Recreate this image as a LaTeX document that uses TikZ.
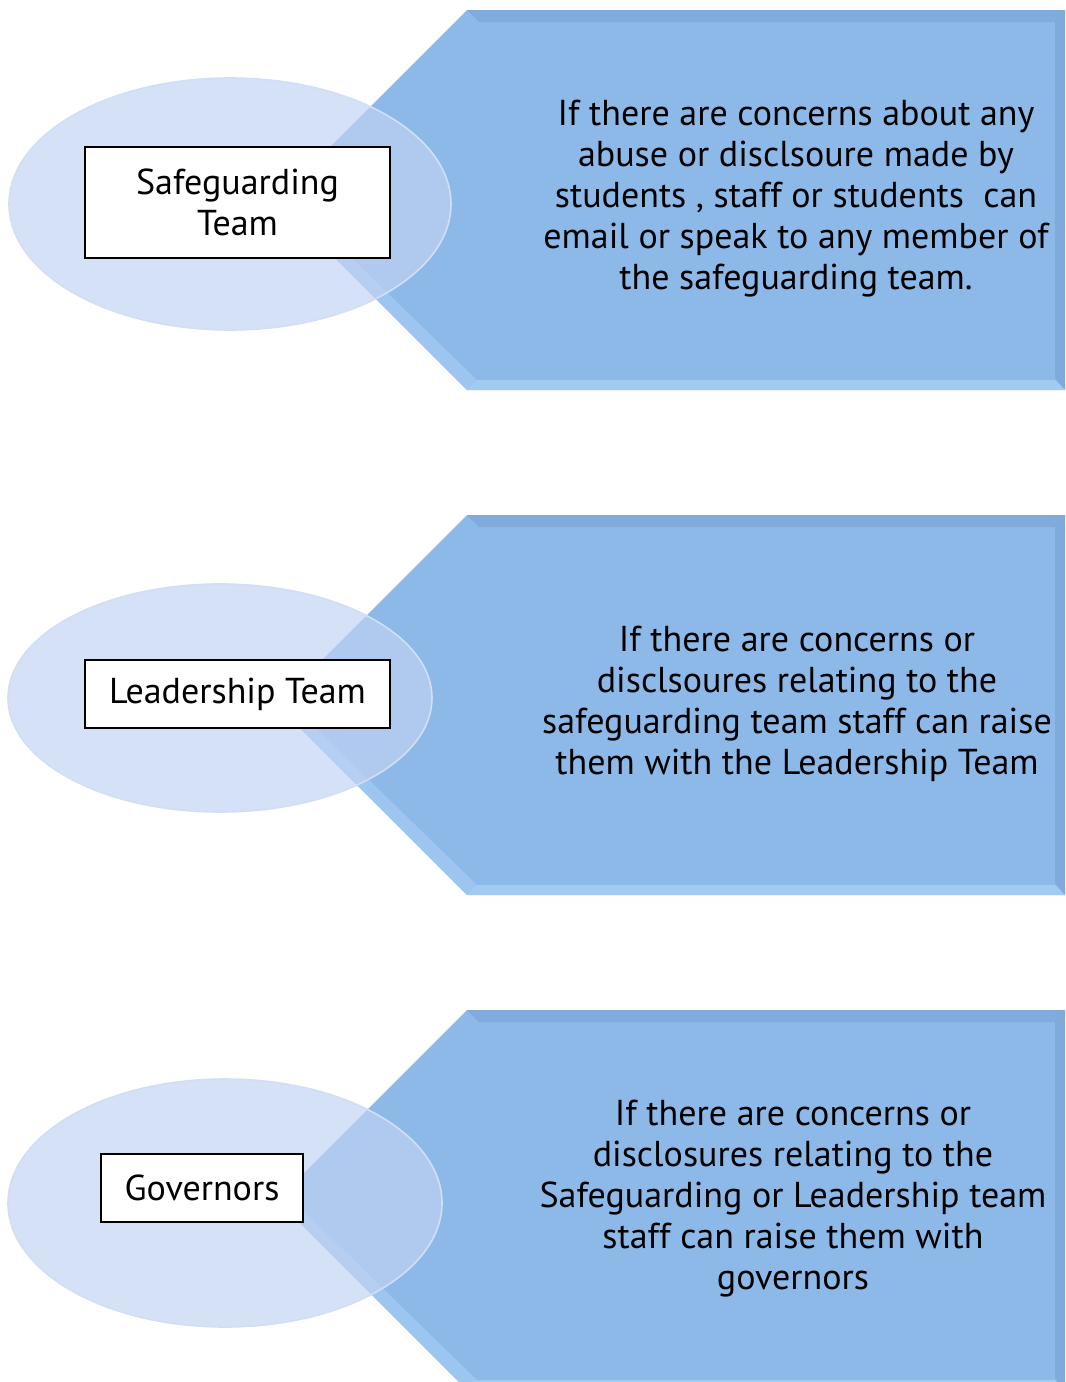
\documentclass[tikz,border=0pt]{standalone}
\usepackage{fontspec}
\setmainfont{PT Sans}
\usepackage{tikz}
\usetikzlibrary{positioning}
\definecolor{arrowblue}{RGB}{141,185,233}
\definecolor{arrowdark}{RGB}{120,160,210}
\definecolor{arrowlight}{RGB}{172,212,246}
\definecolor{ovalblue}{RGB}{193,211,242}
\definecolor{ovalrim}{RGB}{210,222,242}
\def\px{0.75pt}
\def\tikarrows{%
    % arrow bodies, pointing left
    \foreach \t in {10,515,1010}
    {
        \fill[arrowblue] (1065,\t) -- (467,\t) -- (277,\t+190) -- (467,\t+380) -- (1065,\t+380) -- cycle;
        \fill[arrowdark, opacity=0.55] (467,\t) -- (1065,\t) -- (1055,\t+12) -- (479,\t+12) -- cycle;
        \fill[arrowdark, opacity=0.6] (1065,\t) -- (1065,\t+380) -- (1055,\t+368) -- (1055,\t+12) -- cycle;
        \fill[arrowlight, opacity=0.7] (467,\t+380) -- (1065,\t+380) -- (1055,\t+370) -- (477,\t+370) -- cycle;
        \fill[arrowlight, opacity=0.5] (277,\t+190) -- (467,\t+380) -- (477,\t+370) -- (292,\t+190) -- cycle;
    }
    % ovals
    \foreach \cx/\cy/\rx/\ry in {230/204/221/126, 220/698/212/114, 225/1203/217/124}
    {
        \draw[ovalrim, line width=1.2pt, fill=ovalblue, fill opacity=0.68]
            (\cx,\cy) ellipse [x radius=\rx, y radius=\ry];
    }
}
\tikzset{
    label box/.style={draw=black, fill=white, line width=0.8pt, align=center, inner sep=0pt,
        font=\fontsize{27}{30.75}\selectfont},
    note/.style={align=center, font=\fontsize{27}{30.75}\selectfont, inner sep=0pt},
}
\begin{document}
\begin{tikzpicture}[x=\px, y=-\px]
    \useasboundingbox (0,0) rectangle (1065,1382);
    \clip (0,0) rectangle (1065,1382);
    \tikarrows

    % team boxes
    \node[label box, minimum width=305*\px, minimum height=111*\px]
        (safeguarding) at (237.5,202.5) {Safeguarding\\Team};
    \node[label box, minimum width=305*\px, minimum height=68*\px]
        (leadership) at (237.5,694) {Leadership Team};
    \node[label box, minimum width=202*\px, minimum height=68*\px]
        (governors) at (202,1188) {Governors};

    % texts in the arrows
    \node[note] (safeguardingtext) at (796,199) {If there are concerns about any\\
        abuse or disclsoure made by\\
        students , staff or students~ can\\
        email or speak to any member of\\
        the safeguarding team.};
    \node[note] (leadershiptext) at (797,704) {If there are concerns or\\
        disclsoures relating to the\\
        safeguarding team staff can raise\\
        them with the Leadership Team};
    \node[note] (governorstext) at (793,1199) {If there are concerns or\\
        disclosures relating to the\\
        Safeguarding or Leadership team\\
        staff can raise them with\\
        governors};
\end{tikzpicture}
\end{document}
